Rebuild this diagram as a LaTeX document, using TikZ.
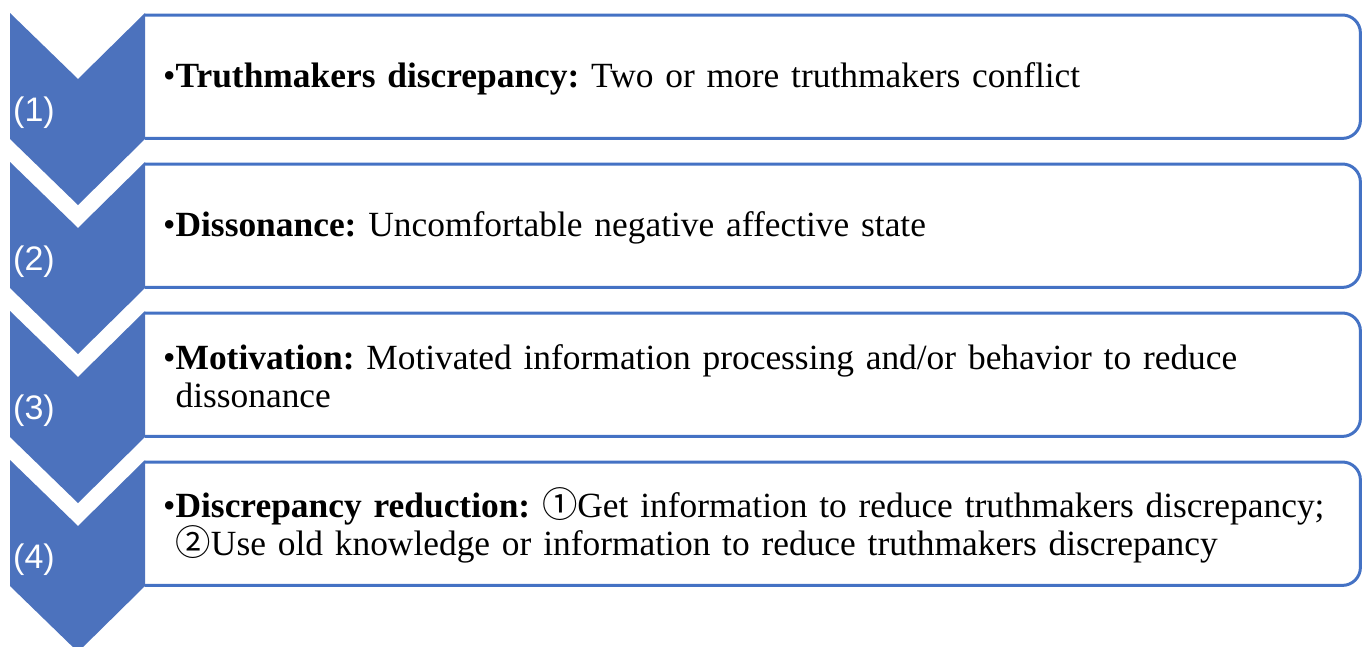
\documentclass[tikz,border=0pt]{standalone}
\usepackage{fontspec}
\setmainfont{Liberation Serif}
\newfontfamily\labfont{Liberation Sans}
\newfontfamily\circfont{Noto Sans CJK SC}
\definecolor{chevblue}{HTML}{4C72BD}
\definecolor{lineblue}{HTML}{4472C4}
\frenchspacing
\begin{document}
\begin{tikzpicture}[x=1pt,y=-1pt,
  chev/.style={fill=chevblue, draw=none},
  chevlabel/.style={text=white, font=\labfont\fontsize{34}{37}\selectfont, anchor=west, inner sep=0pt},
  stepbox/.style={anchor=north west, minimum width=1215pt, minimum height=123pt, inner xsep=18pt, inner ysep=0pt, text width=1179pt, align=left, font=\frenchspacing\fontsize{35.4}{38}\selectfont},
  outline/.style={draw=lineblue, line width=3pt, rounded corners=18pt}]
\useasboundingbox (0,0) rectangle (1362,646);
% boxes
\node[stepbox] (b1) at (145,17) {•\textbf{Truthmakers discrepancy:} Two or more truthmakers conflict};
\node[stepbox] (b2) at (145,166) {•\textbf{Dissonance:} Uncomfortable negative affective state};
\node[stepbox] (b3) at (145,315) {•\textbf{Motivation:} Motivated information processing and/or behavior to reduce\\\phantom{•}dissonance};
\node[stepbox] (b4) at (145,464) {•\textbf{Discrepancy reduction:} {\circfont ①}Get information to reduce truthmakers discrepancy;\\\phantom{•}{\circfont ②}Use old knowledge or information to reduce truthmakers discrepancy};
\foreach \b in {b1,b2,b3,b4}{
  \draw[outline] ([yshift=2pt]\b.south west) -- ([yshift=2pt]\b.south east) -- ([yshift=2pt]\b.north east) -- ([yshift=2pt]\b.north west);
}
% chevrons
\foreach \t/\n in {13/1,162/2,311/3,460/4}{
  \path[chev] (10,\t) -- (78,\t+66) -- (145,\t) -- (145,\t+126) -- (78,\t+192) -- (10,\t+126) -- cycle;
  \node[chevlabel] (l\n) at (13,\t+100) {(\n)};
}
\end{tikzpicture}
\end{document}
